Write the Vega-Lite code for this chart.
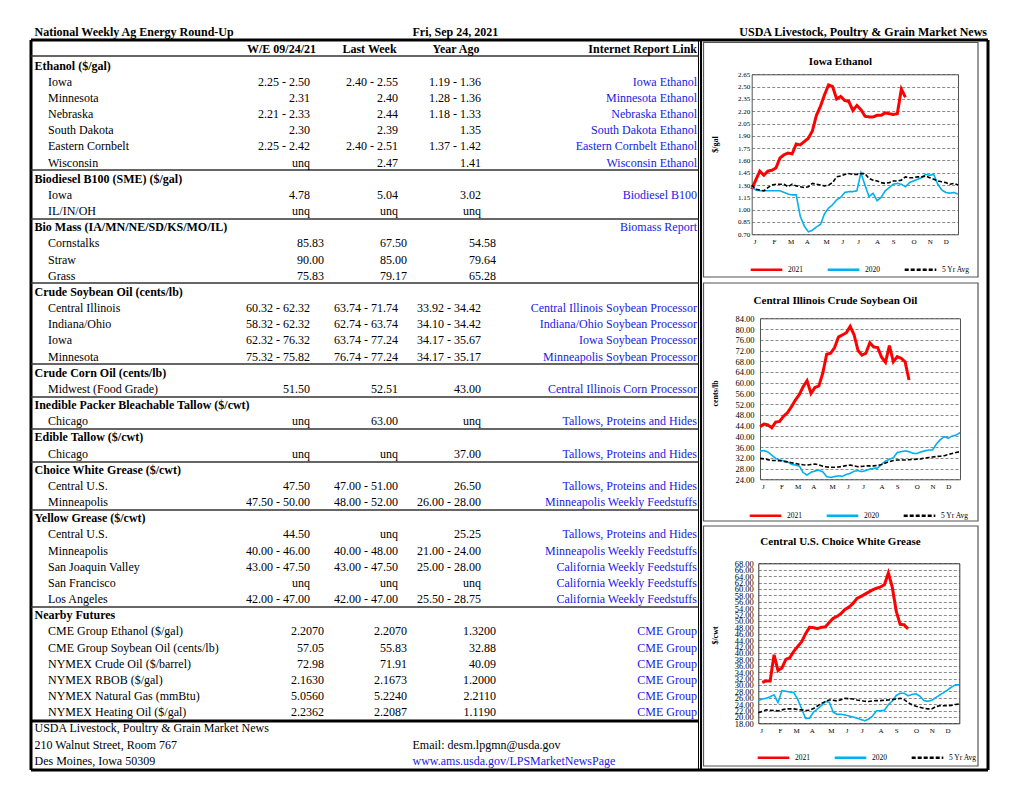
{
"$schema": "https://vega.github.io/schema/vega-lite/v6.json",
"width": 1020, "height": 788,
"autosize": {"type": "none"},
"padding": 0,
"background": "white",
"config": {
  "view": {"stroke": null},
  "axis": {"labelFont": "Liberation Serif", "titleFont": "Liberation Serif", "labelColor": "#000", "titleColor": "#000"},
  "legend": {"labelFont": "Liberation Serif", "labelColor": "#000"},
  "text": {"font": "Liberation Serif"}
},
"datasets": {
"frame": [
{"g":"outer","x1":0,"x2":5,"y1":0,"y2":0},
{"g":"outer","x1":0,"x2":5,"y1":17,"y2":17},
{"g":"outer","x1":0,"x2":0,"y1":0,"y2":17},
{"g":"outer","x1":5,"x2":5,"y1":0,"y2":17},
{"g":"outer","x1":0,"x2":1,"y1":15,"y2":15},
{"g":"panel","x1":2,"x2":2,"y1":0,"y2":17},
{"g":"thin","x1":1,"x2":1,"y1":0,"y2":17},
{"g":"div","x1":0,"x2":1,"y1":2,"y2":2},
{"g":"div","x1":0,"x2":1,"y1":3,"y2":3},
{"g":"div","x1":0,"x2":1,"y1":4,"y2":4},
{"g":"div","x1":0,"x2":1,"y1":6,"y2":6},
{"g":"div","x1":0,"x2":1,"y1":7,"y2":7},
{"g":"div","x1":0,"x2":1,"y1":8,"y2":8},
{"g":"div","x1":0,"x2":1,"y1":9,"y2":9},
{"g":"div","x1":0,"x2":1,"y1":10,"y2":10},
{"g":"div","x1":0,"x2":1,"y1":11,"y2":11},
{"g":"div","x1":0,"x2":1,"y1":14,"y2":14},
{"g":"box","x1":3,"x2":4,"y1":1,"y2":5},
{"g":"box","x1":3,"x2":4,"y1":6,"y2":12},
{"g":"box","x1":3,"x2":4,"y1":13,"y2":16}
],
"tab": [
{"r":-1,"c":0,"t":"National Weekly Ag Energy Round-Up","k":"tl"},
{"r":-1,"c":8,"t":"Fri, Sep 24, 2021","k":"tl"},
{"r":-1,"c":13,"t":"USDA Livestock, Poultry & Grain Market News","k":"tr"},
{"r":0,"c":2,"t":"W/E 09/24/21","k":"hd"},
{"r":0,"c":5,"t":"Last Week","k":"hd"},
{"r":0,"c":9,"t":"Year Ago","k":"hd"},
{"r":0,"c":12,"t":"Internet Report Link","k":"hr"},
{"r":1,"c":0,"t":"Ethanol ($/gal)","k":"sec"},
{"r":2,"c":1,"t":"Iowa","k":"it"},{"r":2,"c":3,"t":"2.25 - 2.50","k":"v"},{"r":2,"c":6,"t":"2.40 - 2.55","k":"v"},{"r":2,"c":10,"t":"1.19 - 1.36","k":"v"},{"r":2,"c":12,"t":"Iowa Ethanol","k":"ln"},
{"r":3,"c":1,"t":"Minnesota","k":"it"},{"r":3,"c":3,"t":"2.31","k":"v"},{"r":3,"c":6,"t":"2.40","k":"v"},{"r":3,"c":10,"t":"1.28 - 1.36","k":"v"},{"r":3,"c":12,"t":"Minnesota Ethanol","k":"ln"},
{"r":4,"c":1,"t":"Nebraska","k":"it"},{"r":4,"c":3,"t":"2.21 - 2.33","k":"v"},{"r":4,"c":6,"t":"2.44","k":"v"},{"r":4,"c":10,"t":"1.18 - 1.33","k":"v"},{"r":4,"c":12,"t":"Nebraska Ethanol","k":"ln"},
{"r":5,"c":1,"t":"South Dakota","k":"it"},{"r":5,"c":3,"t":"2.30","k":"v"},{"r":5,"c":6,"t":"2.39","k":"v"},{"r":5,"c":10,"t":"1.35","k":"v"},{"r":5,"c":12,"t":"South Dakota Ethanol","k":"ln"},
{"r":6,"c":1,"t":"Eastern Cornbelt","k":"it"},{"r":6,"c":3,"t":"2.25 - 2.42","k":"v"},{"r":6,"c":6,"t":"2.40 - 2.51","k":"v"},{"r":6,"c":10,"t":"1.37 - 1.42","k":"v"},{"r":6,"c":12,"t":"Eastern Cornbelt Ethanol","k":"ln"},
{"r":7,"c":1,"t":"Wisconsin","k":"it"},{"r":7,"c":3,"t":"unq","k":"v"},{"r":7,"c":6,"t":"2.47","k":"v"},{"r":7,"c":10,"t":"1.41","k":"v"},{"r":7,"c":12,"t":"Wisconsin Ethanol","k":"ln"},
{"r":8,"c":0,"t":"Biodiesel B100 (SME) ($/gal)","k":"sec"},
{"r":9,"c":1,"t":"Iowa","k":"it"},{"r":9,"c":3,"t":"4.78","k":"v"},{"r":9,"c":6,"t":"5.04","k":"v"},{"r":9,"c":10,"t":"3.02","k":"v"},{"r":9,"c":12,"t":"Biodiesel B100","k":"ln"},
{"r":10,"c":1,"t":"IL/IN/OH","k":"it"},{"r":10,"c":3,"t":"unq","k":"v"},{"r":10,"c":6,"t":"unq","k":"v"},{"r":10,"c":10,"t":"unq","k":"v"},
{"r":11,"c":0,"t":"Bio Mass (IA/MN/NE/SD/KS/MO/IL)","k":"sec"},{"r":11,"c":12,"t":"Biomass Report","k":"ln"},
{"r":12,"c":1,"t":"Cornstalks","k":"it"},{"r":12,"c":4,"t":"85.83","k":"v"},{"r":12,"c":7,"t":"67.50","k":"v"},{"r":12,"c":11,"t":"54.58","k":"v"},
{"r":13,"c":1,"t":"Straw","k":"it"},{"r":13,"c":4,"t":"90.00","k":"v"},{"r":13,"c":7,"t":"85.00","k":"v"},{"r":13,"c":11,"t":"79.64","k":"v"},
{"r":14,"c":1,"t":"Grass","k":"it"},{"r":14,"c":4,"t":"75.83","k":"v"},{"r":14,"c":7,"t":"79.17","k":"v"},{"r":14,"c":11,"t":"65.28","k":"v"},
{"r":15,"c":0,"t":"Crude Soybean Oil (cents/lb)","k":"sec"},
{"r":16,"c":1,"t":"Central Illinois","k":"it"},{"r":16,"c":3,"t":"60.32 - 62.32","k":"v"},{"r":16,"c":6,"t":"63.74 - 71.74","k":"v"},{"r":16,"c":10,"t":"33.92 - 34.42","k":"v"},{"r":16,"c":12,"t":"Central Illinois Soybean Processor","k":"ln"},
{"r":17,"c":1,"t":"Indiana/Ohio","k":"it"},{"r":17,"c":3,"t":"58.32 - 62.32","k":"v"},{"r":17,"c":6,"t":"62.74 - 63.74","k":"v"},{"r":17,"c":10,"t":"34.10 - 34.42","k":"v"},{"r":17,"c":12,"t":"Indiana/Ohio Soybean Processor","k":"ln"},
{"r":18,"c":1,"t":"Iowa","k":"it"},{"r":18,"c":3,"t":"62.32 - 76.32","k":"v"},{"r":18,"c":6,"t":"63.74 - 77.24","k":"v"},{"r":18,"c":10,"t":"34.17 - 35.67","k":"v"},{"r":18,"c":12,"t":"Iowa Soybean Processor","k":"ln"},
{"r":19,"c":1,"t":"Minnesota","k":"it"},{"r":19,"c":3,"t":"75.32 - 75.82","k":"v"},{"r":19,"c":6,"t":"76.74 - 77.24","k":"v"},{"r":19,"c":10,"t":"34.17 - 35.17","k":"v"},{"r":19,"c":12,"t":"Minneapolis Soybean Processor","k":"ln"},
{"r":20,"c":0,"t":"Crude Corn Oil (cents/lb)","k":"sec"},
{"r":21,"c":1,"t":"Midwest (Food Grade)","k":"it"},{"r":21,"c":3,"t":"51.50","k":"v"},{"r":21,"c":6,"t":"52.51","k":"v"},{"r":21,"c":10,"t":"43.00","k":"v"},{"r":21,"c":12,"t":"Central Illinois Corn Processor","k":"ln"},
{"r":22,"c":0,"t":"Inedible Packer Bleachable Tallow ($/cwt)","k":"sec"},
{"r":23,"c":1,"t":"Chicago","k":"it"},{"r":23,"c":3,"t":"unq","k":"v"},{"r":23,"c":6,"t":"63.00","k":"v"},{"r":23,"c":10,"t":"unq","k":"v"},{"r":23,"c":12,"t":"Tallows, Proteins and Hides","k":"ln"},
{"r":24,"c":0,"t":"Edible Tallow ($/cwt)","k":"sec"},
{"r":25,"c":1,"t":"Chicago","k":"it"},{"r":25,"c":3,"t":"unq","k":"v"},{"r":25,"c":6,"t":"unq","k":"v"},{"r":25,"c":10,"t":"37.00","k":"v"},{"r":25,"c":12,"t":"Tallows, Proteins and Hides","k":"ln"},
{"r":26,"c":0,"t":"Choice White Grease ($/cwt)","k":"sec"},
{"r":27,"c":1,"t":"Central U.S.","k":"it"},{"r":27,"c":3,"t":"47.50","k":"v"},{"r":27,"c":6,"t":"47.00 - 51.00","k":"v"},{"r":27,"c":10,"t":"26.50","k":"v"},{"r":27,"c":12,"t":"Tallows, Proteins and Hides","k":"ln"},
{"r":28,"c":1,"t":"Minneapolis","k":"it"},{"r":28,"c":3,"t":"47.50 - 50.00","k":"v"},{"r":28,"c":6,"t":"48.00 - 52.00","k":"v"},{"r":28,"c":10,"t":"26.00 - 28.00","k":"v"},{"r":28,"c":12,"t":"Minneapolis Weekly Feedstuffs","k":"ln"},
{"r":29,"c":0,"t":"Yellow Grease ($/cwt)","k":"sec"},
{"r":30,"c":1,"t":"Central U.S.","k":"it"},{"r":30,"c":3,"t":"44.50","k":"v"},{"r":30,"c":6,"t":"unq","k":"v"},{"r":30,"c":10,"t":"25.25","k":"v"},{"r":30,"c":12,"t":"Tallows, Proteins and Hides","k":"ln"},
{"r":31,"c":1,"t":"Minneapolis","k":"it"},{"r":31,"c":3,"t":"40.00 - 46.00","k":"v"},{"r":31,"c":6,"t":"40.00 - 48.00","k":"v"},{"r":31,"c":10,"t":"21.00 - 24.00","k":"v"},{"r":31,"c":12,"t":"Minneapolis Weekly Feedstuffs","k":"ln"},
{"r":32,"c":1,"t":"San Joaquin Valley","k":"it"},{"r":32,"c":3,"t":"43.00 - 47.50","k":"v"},{"r":32,"c":6,"t":"43.00 - 47.50","k":"v"},{"r":32,"c":10,"t":"25.00 - 28.00","k":"v"},{"r":32,"c":12,"t":"California Weekly Feedstuffs","k":"ln"},
{"r":33,"c":1,"t":"San Francisco","k":"it"},{"r":33,"c":3,"t":"unq","k":"v"},{"r":33,"c":6,"t":"unq","k":"v"},{"r":33,"c":10,"t":"unq","k":"v"},{"r":33,"c":12,"t":"California Weekly Feedstuffs","k":"ln"},
{"r":34,"c":1,"t":"Los Angeles","k":"it"},{"r":34,"c":3,"t":"42.00 - 47.00","k":"v"},{"r":34,"c":6,"t":"42.00 - 47.00","k":"v"},{"r":34,"c":10,"t":"25.50 - 28.75","k":"v"},{"r":34,"c":12,"t":"California Weekly Feedstuffs","k":"ln"},
{"r":35,"c":0,"t":"Nearby Futures","k":"sec"},
{"r":36,"c":1,"t":"CME Group Ethanol ($/gal)","k":"it"},{"r":36,"c":4,"t":"2.2070","k":"v"},{"r":36,"c":7,"t":"2.2070","k":"v"},{"r":36,"c":11,"t":"1.3200","k":"v"},{"r":36,"c":12,"t":"CME Group","k":"ln"},
{"r":37,"c":1,"t":"CME Group Soybean Oil (cents/lb)","k":"it"},{"r":37,"c":4,"t":"57.05","k":"v"},{"r":37,"c":7,"t":"55.83","k":"v"},{"r":37,"c":11,"t":"32.88","k":"v"},{"r":37,"c":12,"t":"CME Group","k":"ln"},
{"r":38,"c":1,"t":"NYMEX Crude Oil ($/barrel)","k":"it"},{"r":38,"c":4,"t":"72.98","k":"v"},{"r":38,"c":7,"t":"71.91","k":"v"},{"r":38,"c":11,"t":"40.09","k":"v"},{"r":38,"c":12,"t":"CME Group","k":"ln"},
{"r":39,"c":1,"t":"NYMEX RBOB ($/gal)","k":"it"},{"r":39,"c":4,"t":"2.1630","k":"v"},{"r":39,"c":7,"t":"2.1673","k":"v"},{"r":39,"c":11,"t":"1.2000","k":"v"},{"r":39,"c":12,"t":"CME Group","k":"ln"},
{"r":40,"c":1,"t":"NYMEX Natural Gas (mmBtu)","k":"it"},{"r":40,"c":4,"t":"5.0560","k":"v"},{"r":40,"c":7,"t":"5.2240","k":"v"},{"r":40,"c":11,"t":"2.2110","k":"v"},{"r":40,"c":12,"t":"CME Group","k":"ln"},
{"r":41,"c":1,"t":"NYMEX Heating Oil ($/gal)","k":"it"},{"r":41,"c":4,"t":"2.2362","k":"v"},{"r":41,"c":7,"t":"2.2087","k":"v"},{"r":41,"c":11,"t":"1.1190","k":"v"},{"r":41,"c":12,"t":"CME Group","k":"ln"},
{"r":42,"c":0,"t":"USDA Livestock, Poultry & Grain Market News","k":"it"},
{"r":43,"c":0,"t":"210 Walnut Street, Room 767","k":"it"},{"r":43,"c":8,"t":"Email:  desm.lpgmn@usda.gov","k":"it"},
{"r":44,"c":0,"t":"Des Moines, Iowa  50309","k":"it"},{"r":44,"c":8,"t":"www.ams.usda.gov/LPSMarketNewsPage","k":"fl"}
],
"eth": [
{"w":1,"v":1.25,"s":"2021"},{"w":2,"v":1.36,"s":"2021"},{"w":3,"v":1.47,"s":"2021"},{"w":4,"v":1.42,"s":"2021"},{"w":5,"v":1.47,"s":"2021"},{"w":6,"v":1.48,"s":"2021"},{"w":7,"v":1.51,"s":"2021"},{"w":8,"v":1.63,"s":"2021"},{"w":9,"v":1.67,"s":"2021"},{"w":10,"v":1.69,"s":"2021"},
{"w":11,"v":1.68,"s":"2021"},{"w":12,"v":1.80,"s":"2021"},{"w":13,"v":1.79,"s":"2021"},{"w":14,"v":1.83,"s":"2021"},{"w":15,"v":1.87,"s":"2021"},{"w":16,"v":1.96,"s":"2021"},{"w":17,"v":2.15,"s":"2021"},{"w":18,"v":2.26,"s":"2021"},{"w":19,"v":2.40,"s":"2021"},{"w":20,"v":2.52,"s":"2021"},
{"w":21,"v":2.50,"s":"2021"},{"w":22,"v":2.35,"s":"2021"},{"w":23,"v":2.38,"s":"2021"},{"w":24,"v":2.33,"s":"2021"},{"w":25,"v":2.32,"s":"2021"},{"w":26,"v":2.21,"s":"2021"},{"w":27,"v":2.27,"s":"2021"},{"w":28,"v":2.22,"s":"2021"},{"w":29,"v":2.14,"s":"2021"},{"w":30,"v":2.13,"s":"2021"},
{"w":31,"v":2.13,"s":"2021"},{"w":32,"v":2.15,"s":"2021"},{"w":33,"v":2.15,"s":"2021"},{"w":34,"v":2.18,"s":"2021"},{"w":35,"v":2.17,"s":"2021"},{"w":36,"v":2.16,"s":"2021"},{"w":37,"v":2.17,"s":"2021"},{"w":38,"v":2.47,"s":"2021"},{"w":39,"v":2.37,"s":"2021"},
{"w":1,"v":1.28,"s":"2020"},{"w":2,"v":1.24,"s":"2020"},{"w":3,"v":1.23,"s":"2020"},{"w":4,"v":1.23,"s":"2020"},{"w":5,"v":1.23,"s":"2020"},{"w":6,"v":1.23,"s":"2020"},{"w":7,"v":1.23,"s":"2020"},{"w":8,"v":1.23,"s":"2020"},{"w":9,"v":1.21,"s":"2020"},{"w":10,"v":1.19,"s":"2020"},
{"w":11,"v":1.18,"s":"2020"},{"w":12,"v":1.18,"s":"2020"},{"w":13,"v":0.92,"s":"2020"},{"w":14,"v":0.80,"s":"2020"},{"w":15,"v":0.73,"s":"2020"},{"w":16,"v":0.75,"s":"2020"},{"w":17,"v":0.79,"s":"2020"},{"w":18,"v":0.82,"s":"2020"},{"w":19,"v":0.95,"s":"2020"},{"w":20,"v":1.02,"s":"2020"},
{"w":21,"v":1.06,"s":"2020"},{"w":22,"v":1.12,"s":"2020"},{"w":23,"v":1.15,"s":"2020"},{"w":24,"v":1.21,"s":"2020"},{"w":25,"v":1.22,"s":"2020"},{"w":26,"v":1.22,"s":"2020"},{"w":27,"v":1.23,"s":"2020"},{"w":28,"v":1.45,"s":"2020"},{"w":29,"v":1.30,"s":"2020"},{"w":30,"v":1.16,"s":"2020"},
{"w":31,"v":1.20,"s":"2020"},{"w":32,"v":1.11,"s":"2020"},{"w":33,"v":1.15,"s":"2020"},{"w":34,"v":1.23,"s":"2020"},{"w":35,"v":1.27,"s":"2020"},{"w":36,"v":1.31,"s":"2020"},{"w":37,"v":1.32,"s":"2020"},{"w":38,"v":1.31,"s":"2020"},{"w":39,"v":1.28,"s":"2020"},{"w":40,"v":1.33,"s":"2020"},
{"w":41,"v":1.35,"s":"2020"},{"w":42,"v":1.37,"s":"2020"},{"w":43,"v":1.39,"s":"2020"},{"w":44,"v":1.43,"s":"2020"},{"w":45,"v":1.42,"s":"2020"},{"w":46,"v":1.43,"s":"2020"},{"w":47,"v":1.31,"s":"2020"},{"w":48,"v":1.24,"s":"2020"},{"w":49,"v":1.21,"s":"2020"},{"w":50,"v":1.20,"s":"2020"},
{"w":51,"v":1.21,"s":"2020"},{"w":52,"v":1.19,"s":"2020"},
{"w":1,"v":1.30,"s":"5 Yr Avg"},{"w":2,"v":1.25,"s":"5 Yr Avg"},{"w":3,"v":1.24,"s":"5 Yr Avg"},{"w":4,"v":1.23,"s":"5 Yr Avg"},{"w":5,"v":1.27,"s":"5 Yr Avg"},{"w":6,"v":1.30,"s":"5 Yr Avg"},{"w":7,"v":1.31,"s":"5 Yr Avg"},{"w":8,"v":1.31,"s":"5 Yr Avg"},{"w":9,"v":1.31,"s":"5 Yr Avg"},{"w":10,"v":1.28,"s":"5 Yr Avg"},
{"w":11,"v":1.31,"s":"5 Yr Avg"},{"w":12,"v":1.29,"s":"5 Yr Avg"},{"w":13,"v":1.28,"s":"5 Yr Avg"},{"w":14,"v":1.27,"s":"5 Yr Avg"},{"w":15,"v":1.28,"s":"5 Yr Avg"},{"w":16,"v":1.32,"s":"5 Yr Avg"},{"w":17,"v":1.31,"s":"5 Yr Avg"},{"w":18,"v":1.30,"s":"5 Yr Avg"},{"w":19,"v":1.29,"s":"5 Yr Avg"},{"w":20,"v":1.30,"s":"5 Yr Avg"},
{"w":21,"v":1.33,"s":"5 Yr Avg"},{"w":22,"v":1.40,"s":"5 Yr Avg"},{"w":23,"v":1.41,"s":"5 Yr Avg"},{"w":24,"v":1.43,"s":"5 Yr Avg"},{"w":25,"v":1.44,"s":"5 Yr Avg"},{"w":26,"v":1.43,"s":"5 Yr Avg"},{"w":27,"v":1.43,"s":"5 Yr Avg"},{"w":28,"v":1.44,"s":"5 Yr Avg"},{"w":29,"v":1.44,"s":"5 Yr Avg"},{"w":30,"v":1.38,"s":"5 Yr Avg"},
{"w":31,"v":1.36,"s":"5 Yr Avg"},{"w":32,"v":1.35,"s":"5 Yr Avg"},{"w":33,"v":1.33,"s":"5 Yr Avg"},{"w":34,"v":1.32,"s":"5 Yr Avg"},{"w":35,"v":1.33,"s":"5 Yr Avg"},{"w":36,"v":1.35,"s":"5 Yr Avg"},{"w":37,"v":1.35,"s":"5 Yr Avg"},{"w":38,"v":1.36,"s":"5 Yr Avg"},{"w":39,"v":1.40,"s":"5 Yr Avg"},{"w":40,"v":1.39,"s":"5 Yr Avg"},
{"w":41,"v":1.39,"s":"5 Yr Avg"},{"w":42,"v":1.40,"s":"5 Yr Avg"},{"w":43,"v":1.40,"s":"5 Yr Avg"},{"w":44,"v":1.41,"s":"5 Yr Avg"},{"w":45,"v":1.39,"s":"5 Yr Avg"},{"w":46,"v":1.37,"s":"5 Yr Avg"},{"w":47,"v":1.35,"s":"5 Yr Avg"},{"w":48,"v":1.34,"s":"5 Yr Avg"},{"w":49,"v":1.33,"s":"5 Yr Avg"},{"w":50,"v":1.31,"s":"5 Yr Avg"},
{"w":51,"v":1.32,"s":"5 Yr Avg"},{"w":52,"v":1.30,"s":"5 Yr Avg"}
],
"sbo": [
{"w":1,"v":43.6,"s":"2021"},{"w":2,"v":44.6,"s":"2021"},{"w":3,"v":44.3,"s":"2021"},{"w":4,"v":43.2,"s":"2021"},{"w":5,"v":45.3,"s":"2021"},{"w":6,"v":45.6,"s":"2021"},{"w":7,"v":47.5,"s":"2021"},{"w":8,"v":48.8,"s":"2021"},{"w":9,"v":51.0,"s":"2021"},{"w":10,"v":53.5,"s":"2021"},
{"w":11,"v":55.5,"s":"2021"},{"w":12,"v":58.5,"s":"2021"},{"w":13,"v":60.7,"s":"2021"},{"w":14,"v":56.0,"s":"2021"},{"w":15,"v":58.2,"s":"2021"},{"w":16,"v":58.8,"s":"2021"},{"w":17,"v":63.5,"s":"2021"},{"w":18,"v":70.6,"s":"2021"},{"w":19,"v":71.0,"s":"2021"},{"w":20,"v":73.0,"s":"2021"},
{"w":21,"v":77.0,"s":"2021"},{"w":22,"v":77.8,"s":"2021"},{"w":23,"v":78.6,"s":"2021"},{"w":24,"v":81.0,"s":"2021"},{"w":25,"v":77.8,"s":"2021"},{"w":26,"v":72.0,"s":"2021"},{"w":27,"v":70.3,"s":"2021"},{"w":28,"v":71.0,"s":"2021"},{"w":29,"v":74.9,"s":"2021"},{"w":30,"v":73.3,"s":"2021"},
{"w":31,"v":73.1,"s":"2021"},{"w":32,"v":69.5,"s":"2021"},{"w":33,"v":67.6,"s":"2021"},{"w":34,"v":73.8,"s":"2021"},{"w":35,"v":67.8,"s":"2021"},{"w":36,"v":69.7,"s":"2021"},{"w":37,"v":69.1,"s":"2021"},{"w":38,"v":67.8,"s":"2021"},{"w":39,"v":61.0,"s":"2021"},
{"w":1,"v":34.5,"s":"2020"},{"w":2,"v":34.7,"s":"2020"},{"w":3,"v":34.2,"s":"2020"},{"w":4,"v":33.0,"s":"2020"},{"w":5,"v":31.8,"s":"2020"},{"w":6,"v":31.2,"s":"2020"},{"w":7,"v":30.9,"s":"2020"},{"w":8,"v":30.5,"s":"2020"},{"w":9,"v":29.6,"s":"2020"},{"w":10,"v":29.3,"s":"2020"},
{"w":11,"v":29.0,"s":"2020"},{"w":12,"v":26.5,"s":"2020"},{"w":13,"v":25.6,"s":"2020"},{"w":14,"v":26.6,"s":"2020"},{"w":15,"v":27.1,"s":"2020"},{"w":16,"v":27.4,"s":"2020"},{"w":17,"v":26.8,"s":"2020"},{"w":18,"v":25.0,"s":"2020"},{"w":19,"v":24.7,"s":"2020"},{"w":20,"v":25.0,"s":"2020"},
{"w":21,"v":25.3,"s":"2020"},{"w":22,"v":25.1,"s":"2020"},{"w":23,"v":25.8,"s":"2020"},{"w":24,"v":26.2,"s":"2020"},{"w":25,"v":27.0,"s":"2020"},{"w":26,"v":27.2,"s":"2020"},{"w":27,"v":26.9,"s":"2020"},{"w":28,"v":27.3,"s":"2020"},{"w":29,"v":27.8,"s":"2020"},{"w":30,"v":28.1,"s":"2020"},
{"w":31,"v":28.2,"s":"2020"},{"w":32,"v":29.6,"s":"2020"},{"w":33,"v":30.8,"s":"2020"},{"w":34,"v":31.5,"s":"2020"},{"w":35,"v":32.0,"s":"2020"},{"w":36,"v":34.0,"s":"2020"},{"w":37,"v":34.3,"s":"2020"},{"w":38,"v":34.6,"s":"2020"},{"w":39,"v":34.3,"s":"2020"},{"w":40,"v":33.7,"s":"2020"},
{"w":41,"v":33.6,"s":"2020"},{"w":42,"v":34.2,"s":"2020"},{"w":43,"v":34.6,"s":"2020"},{"w":44,"v":34.9,"s":"2020"},{"w":45,"v":34.9,"s":"2020"},{"w":46,"v":37.2,"s":"2020"},{"w":47,"v":38.8,"s":"2020"},{"w":48,"v":39.9,"s":"2020"},{"w":49,"v":39.3,"s":"2020"},{"w":50,"v":40.1,"s":"2020"},
{"w":51,"v":40.5,"s":"2020"},{"w":52,"v":41.4,"s":"2020"},
{"w":1,"v":31.8,"s":"5 Yr Avg"},{"w":2,"v":31.6,"s":"5 Yr Avg"},{"w":3,"v":31.3,"s":"5 Yr Avg"},{"w":4,"v":31.0,"s":"5 Yr Avg"},{"w":5,"v":31.0,"s":"5 Yr Avg"},{"w":6,"v":30.9,"s":"5 Yr Avg"},{"w":7,"v":30.7,"s":"5 Yr Avg"},{"w":8,"v":30.5,"s":"5 Yr Avg"},{"w":9,"v":30.2,"s":"5 Yr Avg"},{"w":10,"v":29.9,"s":"5 Yr Avg"},
{"w":11,"v":29.6,"s":"5 Yr Avg"},{"w":12,"v":29.4,"s":"5 Yr Avg"},{"w":13,"v":29.3,"s":"5 Yr Avg"},{"w":14,"v":29.5,"s":"5 Yr Avg"},{"w":15,"v":29.7,"s":"5 Yr Avg"},{"w":16,"v":29.4,"s":"5 Yr Avg"},{"w":17,"v":28.9,"s":"5 Yr Avg"},{"w":18,"v":28.6,"s":"5 Yr Avg"},{"w":19,"v":28.5,"s":"5 Yr Avg"},{"w":20,"v":28.5,"s":"5 Yr Avg"},
{"w":21,"v":28.6,"s":"5 Yr Avg"},{"w":22,"v":28.8,"s":"5 Yr Avg"},{"w":23,"v":29.1,"s":"5 Yr Avg"},{"w":24,"v":29.3,"s":"5 Yr Avg"},{"w":25,"v":29.0,"s":"5 Yr Avg"},{"w":26,"v":28.7,"s":"5 Yr Avg"},{"w":27,"v":28.8,"s":"5 Yr Avg"},{"w":28,"v":29.0,"s":"5 Yr Avg"},{"w":29,"v":29.0,"s":"5 Yr Avg"},{"w":30,"v":29.0,"s":"5 Yr Avg"},
{"w":31,"v":29.2,"s":"5 Yr Avg"},{"w":32,"v":29.5,"s":"5 Yr Avg"},{"w":33,"v":30.1,"s":"5 Yr Avg"},{"w":34,"v":30.6,"s":"5 Yr Avg"},{"w":35,"v":31.0,"s":"5 Yr Avg"},{"w":36,"v":31.2,"s":"5 Yr Avg"},{"w":37,"v":31.2,"s":"5 Yr Avg"},{"w":38,"v":31.2,"s":"5 Yr Avg"},{"w":39,"v":31.3,"s":"5 Yr Avg"},{"w":40,"v":31.4,"s":"5 Yr Avg"},
{"w":41,"v":31.5,"s":"5 Yr Avg"},{"w":42,"v":31.6,"s":"5 Yr Avg"},{"w":43,"v":31.9,"s":"5 Yr Avg"},{"w":44,"v":32.1,"s":"5 Yr Avg"},{"w":45,"v":32.3,"s":"5 Yr Avg"},{"w":46,"v":32.5,"s":"5 Yr Avg"},{"w":47,"v":32.6,"s":"5 Yr Avg"},{"w":48,"v":32.8,"s":"5 Yr Avg"},{"w":49,"v":33.2,"s":"5 Yr Avg"},{"w":50,"v":33.6,"s":"5 Yr Avg"},
{"w":51,"v":34.0,"s":"5 Yr Avg"},{"w":52,"v":34.3,"s":"5 Yr Avg"}
],
"cwg": [
{"w":2,"v":30.8,"s":"2021"},{"w":3,"v":31.2,"s":"2021"},{"w":4,"v":31.2,"s":"2021"},{"w":5,"v":39.4,"s":"2021"},{"w":6,"v":34.5,"s":"2021"},{"w":7,"v":35.3,"s":"2021"},{"w":8,"v":38.0,"s":"2021"},{"w":9,"v":38.5,"s":"2021"},{"w":10,"v":40.5,"s":"2021"},
{"w":11,"v":42.0,"s":"2021"},{"w":12,"v":43.5,"s":"2021"},{"w":13,"v":46.0,"s":"2021"},{"w":14,"v":48.0,"s":"2021"},{"w":15,"v":47.9,"s":"2021"},{"w":16,"v":47.6,"s":"2021"},{"w":17,"v":48.0,"s":"2021"},{"w":18,"v":48.1,"s":"2021"},{"w":19,"v":49.5,"s":"2021"},{"w":20,"v":50.8,"s":"2021"},
{"w":21,"v":51.4,"s":"2021"},{"w":22,"v":52.3,"s":"2021"},{"w":23,"v":53.6,"s":"2021"},{"w":24,"v":54.3,"s":"2021"},{"w":25,"v":55.4,"s":"2021"},{"w":26,"v":57.0,"s":"2021"},{"w":27,"v":57.6,"s":"2021"},{"w":28,"v":58.3,"s":"2021"},{"w":29,"v":59.0,"s":"2021"},{"w":30,"v":59.7,"s":"2021"},
{"w":31,"v":60.2,"s":"2021"},{"w":32,"v":60.6,"s":"2021"},{"w":33,"v":61.3,"s":"2021"},{"w":34,"v":65.0,"s":"2021"},{"w":35,"v":60.5,"s":"2021"},{"w":36,"v":53.0,"s":"2021"},{"w":37,"v":48.9,"s":"2021"},{"w":38,"v":48.8,"s":"2021"},{"w":39,"v":47.5,"s":"2021"},
{"w":1,"v":25.1,"s":"2020"},{"w":2,"v":25.6,"s":"2020"},{"w":3,"v":25.8,"s":"2020"},{"w":4,"v":26.3,"s":"2020"},{"w":5,"v":26.9,"s":"2020"},{"w":6,"v":24.5,"s":"2020"},{"w":7,"v":28.2,"s":"2020"},{"w":8,"v":28.0,"s":"2020"},{"w":9,"v":27.8,"s":"2020"},{"w":10,"v":27.6,"s":"2020"},
{"w":11,"v":25.5,"s":"2020"},{"w":12,"v":22.5,"s":"2020"},{"w":13,"v":19.5,"s":"2020"},{"w":14,"v":19.6,"s":"2020"},{"w":15,"v":21.5,"s":"2020"},{"w":16,"v":22.5,"s":"2020"},{"w":17,"v":23.5,"s":"2020"},{"w":18,"v":24.8,"s":"2020"},{"w":19,"v":24.6,"s":"2020"},{"w":20,"v":21.5,"s":"2020"},
{"w":21,"v":20.8,"s":"2020"},{"w":22,"v":20.8,"s":"2020"},{"w":23,"v":20.6,"s":"2020"},{"w":24,"v":20.3,"s":"2020"},{"w":25,"v":20.0,"s":"2020"},{"w":26,"v":19.6,"s":"2020"},{"w":27,"v":19.2,"s":"2020"},{"w":28,"v":18.8,"s":"2020"},{"w":29,"v":19.3,"s":"2020"},{"w":30,"v":20.3,"s":"2020"},
{"w":31,"v":21.9,"s":"2020"},{"w":32,"v":21.9,"s":"2020"},{"w":33,"v":22.1,"s":"2020"},{"w":34,"v":23.8,"s":"2020"},{"w":35,"v":25.0,"s":"2020"},{"w":36,"v":26.7,"s":"2020"},{"w":37,"v":27.4,"s":"2020"},{"w":38,"v":27.4,"s":"2020"},{"w":39,"v":26.6,"s":"2020"},{"w":40,"v":27.0,"s":"2020"},
{"w":41,"v":27.2,"s":"2020"},{"w":42,"v":26.5,"s":"2020"},{"w":43,"v":25.1,"s":"2020"},{"w":44,"v":24.9,"s":"2020"},{"w":45,"v":25.2,"s":"2020"},{"w":46,"v":26.0,"s":"2020"},{"w":47,"v":26.8,"s":"2020"},{"w":48,"v":27.6,"s":"2020"},{"w":49,"v":28.4,"s":"2020"},{"w":50,"v":29.3,"s":"2020"},
{"w":51,"v":30.0,"s":"2020"},{"w":52,"v":30.0,"s":"2020"},
{"w":1,"v":21.3,"s":"5 Yr Avg"},{"w":2,"v":21.7,"s":"5 Yr Avg"},{"w":3,"v":22.2,"s":"5 Yr Avg"},{"w":4,"v":22.1,"s":"5 Yr Avg"},{"w":5,"v":22.0,"s":"5 Yr Avg"},{"w":6,"v":21.9,"s":"5 Yr Avg"},{"w":7,"v":22.2,"s":"5 Yr Avg"},{"w":8,"v":22.5,"s":"5 Yr Avg"},{"w":9,"v":22.5,"s":"5 Yr Avg"},{"w":10,"v":22.5,"s":"5 Yr Avg"},
{"w":11,"v":22.3,"s":"5 Yr Avg"},{"w":12,"v":22.2,"s":"5 Yr Avg"},{"w":13,"v":22.0,"s":"5 Yr Avg"},{"w":14,"v":22.1,"s":"5 Yr Avg"},{"w":15,"v":22.6,"s":"5 Yr Avg"},{"w":16,"v":23.4,"s":"5 Yr Avg"},{"w":17,"v":24.2,"s":"5 Yr Avg"},{"w":18,"v":24.8,"s":"5 Yr Avg"},{"w":19,"v":25.3,"s":"5 Yr Avg"},{"w":20,"v":25.2,"s":"5 Yr Avg"},
{"w":21,"v":25.0,"s":"5 Yr Avg"},{"w":22,"v":25.4,"s":"5 Yr Avg"},{"w":23,"v":25.8,"s":"5 Yr Avg"},{"w":24,"v":25.7,"s":"5 Yr Avg"},{"w":25,"v":25.6,"s":"5 Yr Avg"},{"w":26,"v":25.3,"s":"5 Yr Avg"},{"w":27,"v":25.1,"s":"5 Yr Avg"},{"w":28,"v":24.9,"s":"5 Yr Avg"},{"w":29,"v":24.8,"s":"5 Yr Avg"},{"w":30,"v":25.0,"s":"5 Yr Avg"},
{"w":31,"v":25.1,"s":"5 Yr Avg"},{"w":32,"v":25.1,"s":"5 Yr Avg"},{"w":33,"v":25.2,"s":"5 Yr Avg"},{"w":34,"v":25.3,"s":"5 Yr Avg"},{"w":35,"v":25.4,"s":"5 Yr Avg"},{"w":36,"v":25.6,"s":"5 Yr Avg"},{"w":37,"v":25.8,"s":"5 Yr Avg"},{"w":38,"v":25.4,"s":"5 Yr Avg"},{"w":39,"v":24.5,"s":"5 Yr Avg"},{"w":40,"v":23.8,"s":"5 Yr Avg"},
{"w":41,"v":23.3,"s":"5 Yr Avg"},{"w":42,"v":23.0,"s":"5 Yr Avg"},{"w":43,"v":22.7,"s":"5 Yr Avg"},{"w":44,"v":22.5,"s":"5 Yr Avg"},{"w":45,"v":22.5,"s":"5 Yr Avg"},{"w":46,"v":23.2,"s":"5 Yr Avg"},{"w":47,"v":23.5,"s":"5 Yr Avg"},{"w":48,"v":23.5,"s":"5 Yr Avg"},{"w":49,"v":23.5,"s":"5 Yr Avg"},{"w":50,"v":23.6,"s":"5 Yr Avg"},
{"w":51,"v":23.9,"s":"5 Yr Avg"},{"w":52,"v":24.0,"s":"5 Yr Avg"}
]
},
"layer": [
{
  "data": {"name": "frame"},
  "encoding": {
    "x": {"field": "x1", "type": "quantitative", "scale": {"domain": [0,1,2,3,4,5], "range": [31,698.5,701,703.5,978,988], "nice": false, "zero": false}, "axis": null},
    "x2": {"field": "x2"},
    "y": {"field": "y1", "type": "quantitative", "scale": {"domain": [0,1,2,3,4,5,6,7,8,9,10,11,12,13,14,15,16,17], "range": [40,42.5,56,170,219,277,283,364,397,429,462,510,521,526,607,721,766,770], "nice": false, "zero": false}, "axis": null},
    "y2": {"field": "y2"}
  },
  "layer": [
    {"transform": [{"filter": "datum.g == 'box'"}], "mark": {"type": "rect", "filled": false, "color": "#555", "strokeWidth": 1.2}},
    {"transform": [{"filter": "datum.g == 'outer'"}], "mark": {"type": "rule", "color": "#000", "strokeWidth": 3}},
    {"transform": [{"filter": "datum.g == 'panel'"}], "mark": {"type": "rule", "color": "#000", "strokeWidth": 2}},
    {"transform": [{"filter": "datum.g == 'thin'"}], "mark": {"type": "rule", "color": "#000", "strokeWidth": 1}},
    {"transform": [{"filter": "datum.g == 'div'"}], "mark": {"type": "rule", "color": "#333", "strokeWidth": 1.6}}
  ]
},
{
  "data": {"name": "tab"},
  "encoding": {
    "x": {"field": "c", "type": "quantitative", "scale": {"domain": [0,1,2,3,4,5,6,7,8,9,10,11,12,13], "range": [34.5,48,281.5,310,324,369.5,398,407,412.5,456,481,496,697,987], "nice": false, "zero": false}, "axis": null},
    "y": {"field": "r", "type": "quantitative", "scale": {"domain": [-1,0,44], "range": [31.7,49.4,760.7], "nice": false, "zero": false}, "axis": null},
    "text": {"field": "t"}
  },
  "layer": [
    {"transform": [{"filter": "datum.k == 'tl' || datum.k == 'sec'"}], "mark": {"type": "text", "align": "left", "baseline": "middle", "fontSize": 12, "fontWeight": "bold", "font": "Liberation Serif", "color": "#000"}},
    {"transform": [{"filter": "datum.k == 'tr' || datum.k == 'hr'"}], "mark": {"type": "text", "align": "right", "baseline": "middle", "fontSize": 12, "fontWeight": "bold", "font": "Liberation Serif", "color": "#000"}},
    {"transform": [{"filter": "datum.k == 'hd'"}], "mark": {"type": "text", "align": "center", "baseline": "middle", "fontSize": 12, "fontWeight": "bold", "font": "Liberation Serif", "color": "#000"}},
    {"transform": [{"filter": "datum.k == 'it'"}], "mark": {"type": "text", "align": "left", "baseline": "middle", "fontSize": 12, "font": "Liberation Serif", "color": "#000"}},
    {"transform": [{"filter": "datum.k == 'v'"}], "mark": {"type": "text", "align": "right", "baseline": "middle", "fontSize": 12, "font": "Liberation Serif", "color": "#000"}},
    {"transform": [{"filter": "datum.k == 'ln'"}], "mark": {"type": "text", "align": "right", "baseline": "middle", "fontSize": 12, "font": "Liberation Serif", "color": "#2020e6"}},
    {"transform": [{"filter": "datum.k == 'fl'"}], "mark": {"type": "text", "align": "left", "baseline": "middle", "fontSize": 12, "font": "Liberation Serif", "color": "#2020e6"}}
  ]
},
{
  "data": {"name": "eth"},
  "resolve": {"axis": {"x": "independent", "y": "independent"}},
  "layer": [
    {
      "mark": {"type": "line"},
      "encoding": {
        "x": {"field": "w", "type": "quantitative", "scale": {"domain": [1,52], "range": [751.7,958], "nice": false, "zero": false},
          "axis": {"orient": "bottom", "offset": -553.7, "values": [1.7,6.5,10.6,14.6,19.4,23.4,27.3,32,36,41,45,49], "labelExpr": "['J','F','M','A','M','J','J','A','S','O','N','D'][indexof([1.7,6.5,10.6,14.6,19.4,23.4,27.3,32,36,41,45,49], datum.value)]", "labelFlush": false, "labelFontSize": 7, "labelPadding": 3, "ticks": false, "tickSize": 0, "grid": false, "domainColor": "#555", "title": "Iowa Ethanol", "titleX": 840, "titleY": -172.6, "titleFontSize": 11, "titleFontWeight": "bold", "titleBaseline": "middle", "titleAlign": "center"}},
        "y": {"field": "v", "type": "quantitative", "scale": {"domain": [0.7,2.65], "range": [234.3,74.3], "nice": false, "zero": false},
          "axis": {"orient": "left", "offset": -751.7, "values": [0.7,0.85,1,1.15,1.3,1.45,1.6,1.75,1.9,2.05,2.2,2.35,2.5,2.65], "format": ".2f", "labelFontSize": 7, "labelPadding": 2, "ticks": false, "tickSize": 0, "labelOverlap": false, "labelFlush": false, "grid": true, "gridDash": [3,2], "gridColor": "#8a8a8a", "domainColor": "#555", "title": "$/gal", "titleX": -36.7, "titleY": 144, "titleAngle": -90, "titleFontSize": 8, "titleFontWeight": "bold", "titleBaseline": "middle", "titleAlign": "center"}},
        "color": {"field": "s", "type": "nominal", "scale": {"domain": ["2021","2020","5 Yr Avg"], "range": ["#ff0000","#00b0f0","#000000"]},
          "legend": {"orient": "none", "legendX": 749, "legendY": 252, "direction": "horizontal", "title": null, "symbolType": "stroke", "symbolSize": 1000, "symbolStrokeWidth": 2.5, "labelFontSize": 7.5, "labelOffset": 4, "columnPadding": 19}},
        "strokeDash": {"field": "s", "type": "nominal", "scale": {"domain": ["2021","2020","5 Yr Avg"], "range": [[1,0],[1,0],[4,2]]},
          "legend": {"orient": "none", "legendX": 749, "legendY": 252, "direction": "horizontal", "title": null, "symbolType": "stroke", "symbolSize": 1000, "symbolStrokeWidth": 2.5, "labelFontSize": 7.5, "labelOffset": 4, "columnPadding": 19}},
        "strokeWidth": {"condition": {"test": "datum.s === '2021'", "value": 3}, "value": 1.6}
      }
    },
    {
      "mark": {"type": "point", "opacity": 0},
      "encoding": {
        "x": {"field": "w", "type": "quantitative", "scale": {"domain": [1,52], "range": [751.7,958], "nice": false, "zero": false},
          "axis": {"orient": "top", "offset": -74.3, "labels": false, "ticks": false, "grid": false, "domainColor": "#555", "title": null}},
        "y": {"field": "v", "type": "quantitative", "scale": {"domain": [0.7,2.65], "range": [234.3,74.3], "nice": false, "zero": false},
          "axis": {"orient": "right", "offset": -62, "labels": false, "ticks": false, "grid": false, "domainColor": "#555", "title": null}}
      }
    }
  ]
},
{
  "data": {"name": "sbo"},
  "resolve": {"axis": {"x": "independent", "y": "independent"}},
  "layer": [
    {
      "mark": {"type": "line"},
      "encoding": {
        "x": {"field": "w", "type": "quantitative", "scale": {"domain": [1,52], "range": [760,960], "nice": false, "zero": false},
          "axis": {"orient": "bottom", "offset": -308.7, "values": [1.7,6.5,10.6,14.6,19.4,23.4,27.3,32,36,41,45,49], "labelExpr": "['J','F','M','A','M','J','J','A','S','O','N','D'][indexof([1.7,6.5,10.6,14.6,19.4,23.4,27.3,32,36,41,45,49], datum.value)]", "labelFlush": false, "labelFontSize": 7, "labelPadding": 3, "ticks": false, "tickSize": 0, "grid": false, "domainColor": "#555", "title": "Central Illinois Crude Soybean Oil", "titleX": 835, "titleY": -179.3, "titleFontSize": 11, "titleFontWeight": "bold", "titleBaseline": "middle", "titleAlign": "center"}},
        "y": {"field": "v", "type": "quantitative", "scale": {"domain": [24,84], "range": [479.3,318.3], "nice": false, "zero": false},
          "axis": {"orient": "left", "offset": -760, "values": [24,28,32,36,40,44,48,52,56,60,64,68,72,76,80,84], "format": ".2f", "labelFontSize": 8.5, "labelPadding": 6, "ticks": false, "tickSize": 0, "labelOverlap": false, "labelFlush": false, "grid": true, "gridDash": [3,2], "gridColor": "#8a8a8a", "domainColor": "#555", "title": "cents/lb", "titleX": -45, "titleY": 393, "titleAngle": -90, "titleFontSize": 8, "titleFontWeight": "bold", "titleBaseline": "middle", "titleAlign": "center"}},
        "color": {"field": "s", "type": "nominal", "scale": {"domain": ["2021","2020","5 Yr Avg"], "range": ["#ff0000","#00b0f0","#000000"]},
          "legend": {"orient": "none", "legendX": 748, "legendY": 498, "direction": "horizontal", "title": null, "symbolType": "stroke", "symbolSize": 1000, "symbolStrokeWidth": 2.5, "labelFontSize": 7.5, "labelOffset": 4, "columnPadding": 19}},
        "strokeDash": {"field": "s", "type": "nominal", "scale": {"domain": ["2021","2020","5 Yr Avg"], "range": [[1,0],[1,0],[4,2]]},
          "legend": {"orient": "none", "legendX": 748, "legendY": 498, "direction": "horizontal", "title": null, "symbolType": "stroke", "symbolSize": 1000, "symbolStrokeWidth": 2.5, "labelFontSize": 7.5, "labelOffset": 4, "columnPadding": 19}},
        "strokeWidth": {"condition": {"test": "datum.s === '2021'", "value": 3}, "value": 1.6}
      }
    },
    {
      "mark": {"type": "point", "opacity": 0},
      "encoding": {
        "x": {"field": "w", "type": "quantitative", "scale": {"domain": [1,52], "range": [760,960], "nice": false, "zero": false},
          "axis": {"orient": "top", "offset": -318.3, "labels": false, "ticks": false, "grid": false, "domainColor": "#555", "title": null}},
        "y": {"field": "v", "type": "quantitative", "scale": {"domain": [24,84], "range": [479.3,318.3], "nice": false, "zero": false},
          "axis": {"orient": "right", "offset": -60, "labels": false, "ticks": false, "grid": false, "domainColor": "#555", "title": null}}
      }
    }
  ]
},
{
  "data": {"name": "cwg"},
  "resolve": {"axis": {"x": "independent", "y": "independent"}},
  "layer": [
    {
      "mark": {"type": "line"},
      "encoding": {
        "x": {"field": "w", "type": "quantitative", "scale": {"domain": [1,52], "range": [758.3,959.3], "nice": false, "zero": false},
          "axis": {"orient": "bottom", "offset": -64.7, "values": [1.7,6.5,10.6,14.6,19.4,23.4,27.3,32,36,41,45,49], "labelExpr": "['J','F','M','A','M','J','J','A','S','O','N','D'][indexof([1.7,6.5,10.6,14.6,19.4,23.4,27.3,32,36,41,45,49], datum.value)]", "labelFlush": false, "labelFontSize": 7, "labelPadding": 3, "ticks": false, "tickSize": 0, "grid": false, "domainColor": "#333", "title": "Central U.S. Choice White Grease", "titleX": 840, "titleY": -182.3, "titleFontSize": 11, "titleFontWeight": "bold", "titleBaseline": "middle", "titleAlign": "center"}},
        "y": {"field": "v", "type": "quantitative", "scale": {"domain": [18,68], "range": [723.3,563.3], "nice": false, "zero": false},
          "axis": {"orient": "left", "offset": -758.3, "values": [18,20,22,24,26,28,30,32,34,36,38,40,42,44,46,48,50,52,54,56,58,60,62,64,66,68], "format": ".2f", "labelFontSize": 8.5, "labelPadding": 5, "ticks": false, "tickSize": 0, "labelOverlap": false, "labelFlush": false, "grid": true, "gridDash": [3,2], "gridColor": "#8a8a8a", "domainColor": "#333", "title": "$/cwt", "titleX": -43.3, "titleY": 635, "titleAngle": -90, "titleFontSize": 8, "titleFontWeight": "bold", "titleBaseline": "middle", "titleAlign": "center"}},
        "color": {"field": "s", "type": "nominal", "scale": {"domain": ["2021","2020","5 Yr Avg"], "range": ["#ff0000","#00b0f0","#000000"]},
          "legend": {"orient": "none", "legendX": 756, "legendY": 740, "direction": "horizontal", "title": null, "symbolType": "stroke", "symbolSize": 1000, "symbolStrokeWidth": 2.5, "labelFontSize": 7.5, "labelOffset": 4, "columnPadding": 19}},
        "strokeDash": {"field": "s", "type": "nominal", "scale": {"domain": ["2021","2020","5 Yr Avg"], "range": [[1,0],[1,0],[4,2]]},
          "legend": {"orient": "none", "legendX": 756, "legendY": 740, "direction": "horizontal", "title": null, "symbolType": "stroke", "symbolSize": 1000, "symbolStrokeWidth": 2.5, "labelFontSize": 7.5, "labelOffset": 4, "columnPadding": 19}},
        "strokeWidth": {"condition": {"test": "datum.s === '2021'", "value": 3}, "value": 1.6}
      }
    },
    {
      "mark": {"type": "point", "opacity": 0},
      "encoding": {
        "x": {"field": "w", "type": "quantitative", "scale": {"domain": [1,52], "range": [758.3,959.3], "nice": false, "zero": false},
          "axis": {"orient": "top", "offset": -563.3, "labels": false, "ticks": false, "grid": false, "domainColor": "#333", "title": null}},
        "y": {"field": "v", "type": "quantitative", "scale": {"domain": [18,68], "range": [723.3,563.3], "nice": false, "zero": false},
          "axis": {"orient": "right", "offset": -60.7, "labels": false, "ticks": false, "grid": false, "domainColor": "#333", "title": null}}
      }
    }
  ]
}
],
"resolve": {"scale": {"x": "independent", "y": "independent", "color": "independent", "strokeDash": "independent"}}
}
